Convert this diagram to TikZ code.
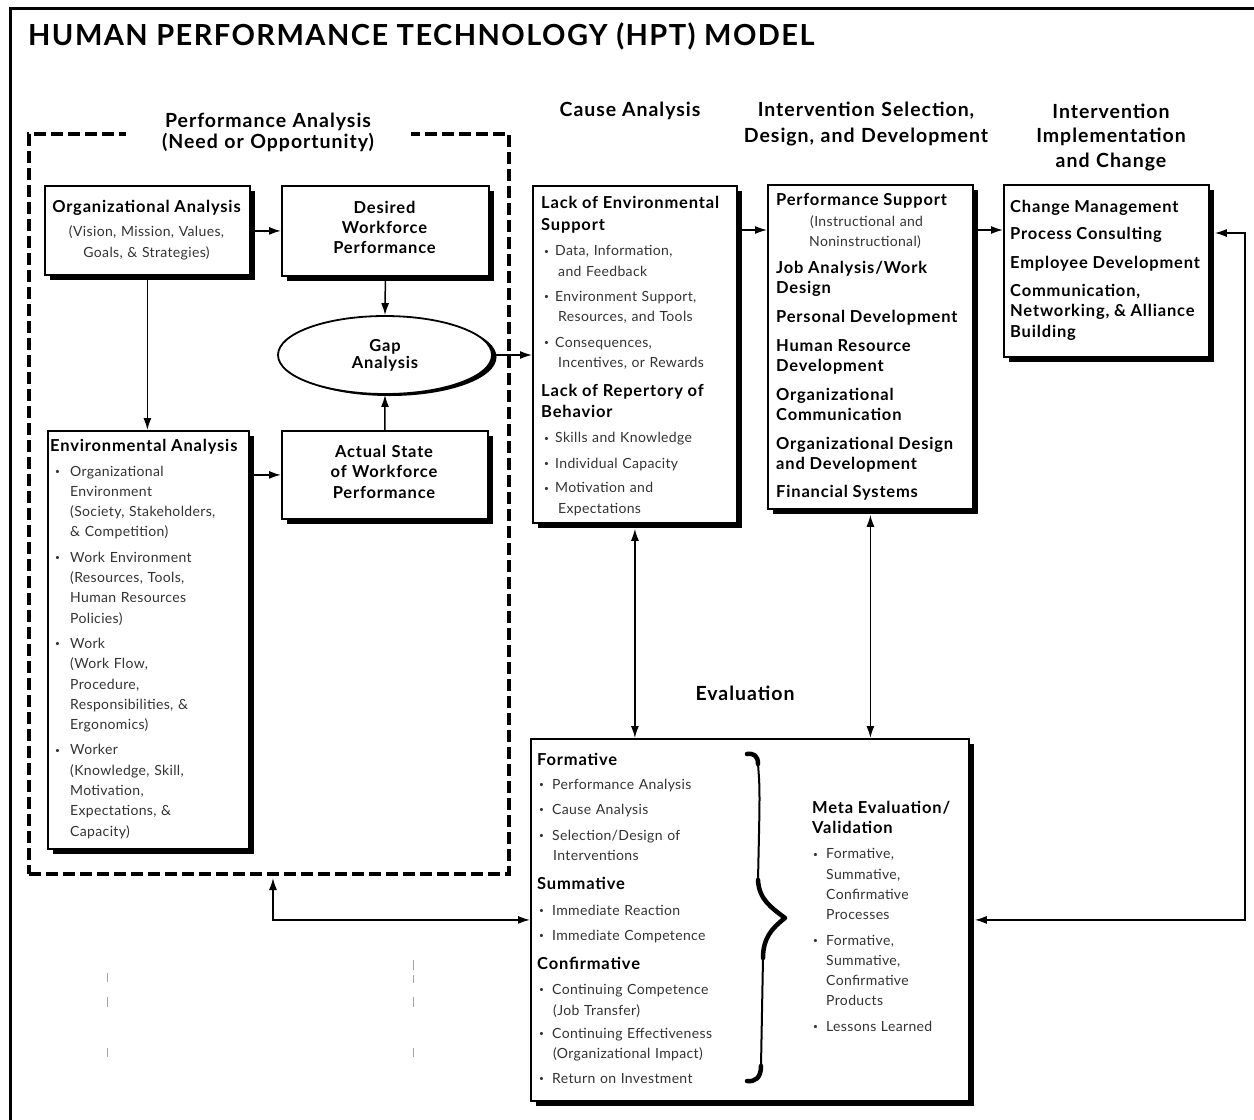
\documentclass[tikz,border=0pt]{standalone}
\usepackage{fontspec}
\setmainfont{Lato}[LetterSpace=2.5]
\newfontfamily\wide{Lato}[LetterSpace=5]
\usetikzlibrary{shapes.geometric,shadows,arrows.meta}

% bullet with offset #1 inside a box of width #2; continuation indent
\newcommand\bu[2]{\leavevmode\makebox[#2][l]{\hspace*{#1}\raisebox{1.6pt}{\scalebox{0.6}{\textbullet}}}}
\newcommand\ct[1]{\leavevmode\hspace*{#1}}
\newcommand\hd[1]{{\color{black}\wide\bfseries\fontsize{16.5}{20}\selectfont #1}}

\tikzset{
  box/.style={draw, line width=1.8pt, fill=white, inner sep=0pt, anchor=north west,
    drop shadow={shadow xshift=5pt, shadow yshift=-5pt, fill=black, opacity=1}},
  body/.style={inner sep=0pt, anchor=base west, align=left, text=black!80,
    font=\fontsize{14}{20.3}\selectfont},
  cbold/.style={inner sep=0pt, anchor=base, align=center, text width=204pt,
    font=\wide\bfseries\fontsize{16.5}{20.3}\selectfont},
  head/.style={inner sep=0pt, anchor=base, align=center,
    font=\wide\bfseries\fontsize{19.5}{25}\selectfont},
  gapnode/.style={ellipse, draw, line width=1.8pt, fill=white, inner sep=0pt,
    minimum width=214pt, minimum height=78pt, align=center,
    font=\wide\bfseries\fontsize{16.5}{17}\selectfont,
    drop shadow={shadow xshift=4.5pt, shadow yshift=-2pt, fill=black, opacity=1}},
  tip/.tip={Latex[length=12pt,width=8pt]},
  arr/.style={line width=1.5pt, -tip},
  dbl/.style={line width=1.5pt, tip-tip},
  faint/.style={black!35, line width=0.6pt},
}

\begin{document}
\begin{tikzpicture}[x=1pt,y=-1pt]
\useasboundingbox (0,0) rectangle (1254,1120);
\fill[white] (0,0) rectangle (1254,1120);

% outer frame
\draw[line width=3pt] (10,1120) -- (10,8) -- (1254,8);

\node[anchor=base west, inner sep=0pt, font=\wide\bfseries\fontsize{29}{30}\selectfont]
  (title) at (28,45) {HUMAN PERFORMANCE TECHNOLOGY (HPT) MODEL};

% performance analysis region
\node[draw, line width=4pt, dash pattern=on 12pt off 5pt, minimum width=480pt,
  minimum height=740pt, anchor=north west, inner sep=0pt] (pa) at (27,132) {};
\node[head, text width=285pt, fill=white, font=\wide\bfseries\fontsize{19.5}{21}\selectfont]
  (paT) at (268,127) {Performance Analysis\\(Need or Opportunity)};

% column headers
\node[head] (hCause) at (630,116) {Cause Analysis};
\node[head, text width=290pt, font=\wide\bfseries\fontsize{19.5}{26}\selectfont]
  (hIntv) at (866,116) {Intervention Selection,\\Design, and Development};
\node[head, text width=200pt, font=\wide\bfseries\fontsize{19.5}{24.5}\selectfont]
  (hImpl) at (1111,118) {Intervention\\Implementation\\and Change};
\node[head] (hEval) at (745,700) {Evaluation};

% boxes
\node[box, minimum width=205pt, minimum height=89pt] (org) at (44,185) {};
\node[box, minimum width=207pt, minimum height=90pt] (des) at (281,185) {};
\node[box, minimum width=206pt, minimum height=88pt] (act) at (281,430) {};
\node[box, minimum width=201pt, minimum height=418pt] (env) at (47,430) {};
\node[gapnode] (gap) at (385,355) {Gap\\Analysis};
\node[box, minimum width=204pt, minimum height=337pt] (cause) at (532,185) {};
\node[box, minimum width=205pt, minimum height=324pt] (intv) at (767,184) {};
\node[box, minimum width=205pt, minimum height=172pt] (impl) at (1003,184) {};
\node[box, minimum width=438pt, minimum height=362pt] (eval) at (530,738) {};

% box texts
\node[body, anchor=base, align=center, text width=204pt, font=\fontsize{14}{21}\selectfont]
  (orgT) at (146.5,212) {\hd{Organizational Analysis}\\[3pt](Vision, Mission, Values,\\Goals, \& Strategies)};
\node[cbold] (desT) at (384.5,213) {Desired\\Workforce\\Performance};
\node[cbold, font=\wide\bfseries\fontsize{16.5}{20.5}\selectfont] (actT) at (384,457)
  {Actual State\\of Workforce\\Performance};

\node[body, text width=198pt] (envT) at (50,451) {\hd{Environmental Analysis}\\[4.7pt]
\bu{5pt}{20pt}Organizational\\ \ct{20pt}Environment\\ \ct{20pt}(Society, Stakeholders,\\ \ct{20pt}\& Competition)\\[5pt]
\bu{5pt}{20pt}Work Environment\\ \ct{20pt}(Resources, Tools,\\ \ct{20pt}Human Resources\\ \ct{20pt}Policies)\\[5pt]
\bu{5pt}{20pt}Work\\ \ct{20pt}(Work Flow,\\ \ct{20pt}Procedure,\\ \ct{20pt}Responsibilities, \&\\ \ct{20pt}Ergonomics)\\[5pt]
\bu{5pt}{20pt}Worker\\ \ct{20pt}(Knowledge, Skill,\\ \ct{20pt}Motivation,\\ \ct{20pt}Expectations, \&\\ \ct{20pt}Capacity)};

\node[body, text width=200pt] (causeT) at (541,208) {\hd{Lack of Environmental}\\[1.7pt]\hd{Support}\\[5.5pt]
\bu{3pt}{14pt}Data, Information,\\ \ct{17pt}and Feedback\\[4.7pt]
\bu{3pt}{14pt}Environment Support,\\ \ct{17pt}Resources, and Tools\\[5.5pt]
\bu{3pt}{14pt}Consequences,\\ \ct{17pt}Incentives, or Rewards\\[8.5pt]
\hd{Lack of Repertory of}\\[1pt]\hd{Behavior}\\[4.7pt]
\bu{3pt}{14pt}Skills and Knowledge\\[5.5pt]
\bu{3pt}{14pt}Individual Capacity\\[4pt]
\bu{3pt}{14pt}Motivation and\\ \ct{17pt}Expectations};

\node[body, text width=200pt, font=\fontsize{14}{20}\selectfont] (intvT) at (776,205)
{\hd{Performance Support}\\[1pt] \ct{34pt}(Instructional and\\ \ct{33pt}Noninstructional)\\[7pt]
\hd{Job Analysis/Work}\\\hd{Design}\\[9pt]
\hd{Personal Development}\\[9pt]
\hd{Human Resource}\\\hd{Development}\\[9pt]
\hd{Organizational}\\\hd{Communication}\\[9pt]
\hd{Organizational Design}\\\hd{and Development}\\[8pt]
\hd{Financial Systems}};

\node[body, text width=200pt, font=\fontsize{14}{20.5}\selectfont] (implT) at (1010,212)
{\hd{Change Management}\\[6.5pt]\hd{Process Consulting}\\[8.5pt]\hd{Employee Development}\\[7.5pt]
\hd{Communication,}\\\hd{Networking, \& Alliance}\\\hd{Building}};

\node[body, text width=210pt, font=\fontsize{14}{20.5}\selectfont] (evalT) at (537,765)
{\hd{Formative}\\[3.5pt]
\bu{2pt}{15pt}Performance Analysis\\[4.5pt]
\bu{2pt}{15pt}Cause Analysis\\[5.5pt]
\bu{2pt}{15pt}Selection/Design of\\ \ct{16pt}Interventions\\[8.5pt]
\hd{Summative}\\[5.5pt]
\bu{2pt}{15pt}Immediate Reaction\\[4.5pt]
\bu{2pt}{15pt}Immediate Competence\\[8.5pt]
\hd{Confirmative}\\[4.5pt]
\bu{2pt}{15pt}Continuing Competence\\ \ct{16pt}(Job Transfer)\\[2.5pt]
\bu{2pt}{15pt}Continuing Effectiveness\\ \ct{16pt}(Organizational Impact)\\[4.5pt]
\bu{2pt}{15pt}Return on Investment};

\node[body, text width=150pt, font=\fontsize{14}{20.2}\selectfont] (metaT) at (812,813)
{\hd{Meta Evaluation/}\\\hd{Validation}\\[5.5pt]
\bu{1pt}{14pt}Formative,\\ \ct{14pt}Summative,\\ \ct{14pt}Confirmative\\ \ct{14pt}Processes\\[5.5pt]
\bu{1pt}{14pt}Formative,\\ \ct{14pt}Summative,\\ \ct{14pt}Confirmative\\ \ct{14pt}Products\\[5.5pt]
\bu{1pt}{14pt}Lessons Learned};

% brace joining the evaluation stages
\begin{scope}[line cap=round, line join=round]
  \draw[line width=4.5pt] (747,754) .. controls (754,753) and (758,756) .. (758,764);
  \draw[line width=2pt] (758,764) .. controls (760,790) .. (758,880);
  \draw[line width=4.5pt] (758,880) .. controls (759,900) and (772,908) .. (785,918)
    .. controls (772,928) and (763,938) .. (763,958);
  \draw[line width=2pt] (763,958) -- (761,1066);
  \draw[line width=4.5pt] (761,1066) .. controls (761,1078) and (755,1082) .. (747,1081);
\end{scope}

% connectors
\coordinate (xpa) at (273,0);
\coordinate (fbx) at (1245,0);
\coordinate (fby) at (0,233);
\coordinate (yr) at (0,230);
\draw[arr] (des.west -| org.east) -- (des.west);
\draw[arr] (org.south) -- (org.south |- env.north);
\draw[arr] (des.south) -- (gap.north);
\draw[arr] (act.north) -- (gap.south);
\draw[arr] (act.west -| env.east) -- (act.west);
\draw[arr] (gap.east) -- (gap.east -| cause.west);
\draw[arr] (cause.east |- yr) -- (intv.west |- yr);
\draw[arr] (intv.east |- yr) -- (impl.west |- yr);
\draw[dbl] ([yshift=-5pt]cause.south) -- (cause.south |- eval.north);
\draw[dbl] ([yshift=-5pt]intv.south) -- (intv.south |- eval.north);
\draw[dbl] ([yshift=-2pt]pa.south -| xpa) |- (eval.west);
\draw[dbl] ([xshift=5pt]impl.east |- fby) -- (fbx |- fby) -- (fbx |- eval.east)
  -- ([xshift=5pt]eval.east);

% faint marks in the lower left
\draw[faint] (107,973) -- (107,982) (107,997) -- (107,1007) (107,1048) -- (107,1057);
\draw[faint] (413,960) -- (413,970) (413,975) -- (413,983) (413,997) -- (413,1007)
  (413,1048) -- (413,1057);
\end{tikzpicture}
\end{document}
